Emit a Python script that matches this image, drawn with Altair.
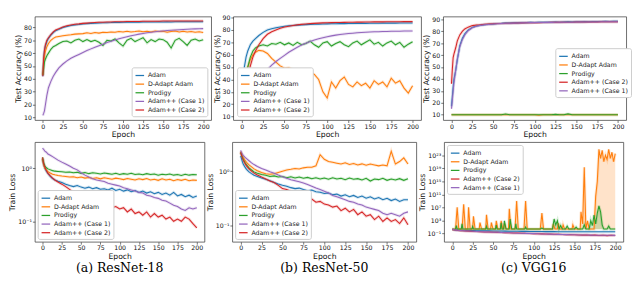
import math
import altair as alt
import pandas as pd

E = [0, 1, 2, 3, 5, 7, 10, 13, 16, 20,
     25, 30, 35, 40, 45, 50, 55, 60, 65, 70,
     75, 80, 85, 90, 95, 100, 105, 110, 115, 120,
     125, 130, 135, 140, 145, 150, 155, 160, 165, 170,
     175, 180, 185, 190, 195, 200]
XTICKS = [0, 25, 50, 75, 100, 125, 150, 175, 200]

ORDER = ["Adam", "D-Adapt Adam", "Prodigy", "Adam++ (Case 1)", "Adam++ (Case 2)"]
ORDER_VGG = ["Adam", "D-Adapt Adam", "Prodigy", "Adam++ (Case 2)", "Adam++ (Case 1)"]
COLORS = {"Adam": "#1f77b4", "D-Adapt Adam": "#ff7f0e", "Prodigy": "#2ca02c",
          "Adam++ (Case 1)": "#9467bd", "Adam++ (Case 2)": "#d62728"}

# ---------------- ResNet-18 test accuracy ----------------
r18_acc_adam = [42, 55, 62, 65, 69, 71.5, 74, 76, 77.5, 78.5,
                80, 80.8, 81.5, 82, 82.3, 82.8, 83, 83.2, 83.3, 83.5,
                83.6, 83.7, 83.8, 84, 83.9, 84, 84.1, 84, 84.2, 84.1,
                84.3, 84.2, 84.2, 84.3, 84.4, 84.3, 84.4, 84.3, 84.4, 84.5,
                84.4, 84.5, 84.4, 84.5, 84.4, 84.4]
r18_acc_dadapt = [43, 52, 58, 61, 65, 67.5, 70, 71.5, 72.5, 73,
                  73.5, 74, 74.3, 74.8, 75, 75.2, 75.8, 75.3, 76, 75.6,
                  76.2, 76, 76.5, 76.2, 76.8, 76.4, 77, 76.5, 76.8, 77.2,
                  76.6, 77, 76.5, 77.3, 76.8, 77, 76.3, 76.9, 77.2, 76.5,
                  77, 76.4, 76.8, 76.2, 76.6, 76]
r18_acc_prodigy = [43, 48, 53, 55, 58, 60, 63, 65, 66, 67.5,
                   69, 69.5, 68, 70, 71, 69, 70.5, 69, 70, 68.5,
                   66, 70, 69.5, 71, 68, 65.5, 70, 71.5, 69, 70.5,
                   72, 68, 70.5, 69, 71, 70.5, 68.5, 64, 70, 71.5,
                   69, 66, 70, 71, 69.5, 70.5]
r18_acc_case1 = [11.5, 13, 15, 19, 27, 33, 38, 42, 45, 48.5,
                 51.5, 54, 56, 57.5, 59, 60.5, 62, 63.3, 64.6, 65.8,
                 67, 68.2, 69.2, 70.2, 71.2, 72, 72.8, 73.5, 74.2, 74.8,
                 75.3, 75.8, 76.2, 76.6, 77, 77.3, 77.6, 77.8, 78, 78.2,
                 78.4, 78.6, 78.8, 78.9, 79, 79.1]
r18_acc_case2 = [42, 56, 62, 66, 70, 72, 74.5, 76.5, 78, 79,
                 80.3, 81.3, 82, 82.5, 82.8, 83.2, 83.4, 83.6, 83.8, 84,
                 84.1, 84.2, 84.3, 84.4, 84.5, 84.5, 84.6, 84.6, 84.7, 84.7,
                 84.8, 84.8, 84.8, 84.9, 84.9, 85, 85, 85, 85, 85.1,
                 85, 85.1, 85, 85.1, 85, 85.1]

# ---------------- ResNet-50 test accuracy ----------------
r50_acc_adam = [22, 33, 42, 50, 58, 63, 68, 71, 73, 75.5,
                78, 80, 81, 81.8, 82.4, 82.9, 83.3, 83.6, 83.9, 84.1,
                84.3, 84.5, 84.6, 84.7, 84.8, 84.9, 85, 85, 85.1, 85.1,
                85.2, 85.2, 85.3, 85.3, 85.3, 85.4, 85.4, 85.4, 85.5, 85.5,
                85.5, 85.5, 85.6, 85.6, 85.6, 85.6]
r50_acc_dadapt = [15, 20, 27, 33, 42, 50, 56, 60, 62, 63.5,
                  63, 61, 57, 54, 51, 49, 49.5, 48, 47, 47.5,
                  48, 46, 44, 40, 30, 25, 38, 33, 39, 42,
                  36, 34, 38, 35, 37, 33, 39, 36, 38, 34,
                  41, 37, 39, 33, 29, 35]
r50_acc_prodigy = [15, 20, 27, 33, 42, 50, 58, 63, 65.5, 67,
                   68, 67, 69, 68.5, 70, 68, 69.5, 67.5, 70, 68,
                   69, 71, 68, 66, 69.5, 70.5, 67, 69, 70.5, 68,
                   66.5, 69.5, 71, 68, 70, 72, 68.5, 70, 67, 69.5,
                   71, 68, 70, 66, 68.5, 70.5]
r50_acc_case1 = [11, 12, 13, 14.5, 17, 20, 25, 30, 34, 39,
                 44, 48, 51.5, 54.5, 57, 59.5, 62, 64, 66, 67.8,
                 69.3, 70.6, 71.8, 72.8, 73.7, 74.5, 75.2, 75.8, 76.3, 76.7,
                 77.1, 77.4, 77.7, 78, 78.2, 78.4, 78.5, 78.6, 78.7, 78.8,
                 78.9, 79, 79, 79.1, 79.1, 79.2]
r50_acc_case2 = [12, 15, 20, 25, 33, 41, 51, 58, 63, 68,
                 73, 76.5, 78.5, 80, 81.3, 82.3, 83, 83.6, 84.1, 84.5,
                 84.8, 85.1, 85.3, 85.5, 85.7, 85.8, 85.9, 86, 86, 86.1,
                 86.2, 86.2, 86.3, 86.3, 86.4, 86.4, 86.5, 86.5, 86.5, 86.6,
                 86.6, 86.6, 86.6, 86.7, 86.7, 86.7]

# ---------------- VGG16 test accuracy ----------------
vgg_acc_adam = [17, 25, 33, 40, 47, 56, 68, 74, 78, 81,
                83.3, 84.5, 85.2, 85.6, 86, 86.2, 86.5, 86.7, 87, 86.9,
                87.2, 87.1, 87.4, 87.3, 87.5, 87.4, 87.6, 87.5, 87.7, 87.6,
                87.8, 87.7, 87.9, 88, 87.9, 88.1, 88, 88.2, 88.1, 88.3,
                88.2, 88.3, 88.4, 88.3, 88.5, 88.5]
vgg_acc_dadapt = [10, 10, 10, 10, 10, 10, 10, 10, 10, 10,
                  10, 10, 10, 10, 10, 10, 10, 10, 10, 10,
                  10, 10, 10, 10, 10, 10, 9.6, 10, 10, 10,
                  10, 10, 10, 10, 10, 10, 10, 10, 10, 10,
                  10, 10, 10, 10, 10, 10]
vgg_acc_prodigy = [10, 10, 10, 10, 10, 10, 10, 10, 10, 10,
                   10, 10, 10, 10, 10, 10, 10, 10, 10.6, 10,
                   10, 10, 10, 10, 10, 10, 10, 10, 10, 10,
                   10.3, 10, 10, 10.7, 10, 10, 10, 10, 10, 10,
                   10, 10, 10, 10, 10, 10]
vgg_acc_case2 = [36, 48, 58, 61, 66, 72, 77, 80, 82, 83.5,
                 84.8, 85.3, 85.6, 86, 86.2, 86.4, 86.5, 86.6, 86.7, 86.8,
                 86.9, 87, 87.1, 87.2, 87.2, 87.3, 87.3, 87.4, 87.4, 87.5,
                 87.5, 87.6, 87.6, 87.7, 87.7, 87.8, 87.8, 87.8, 87.9, 87.9,
                 87.9, 88, 88, 88, 88, 88]
vgg_acc_case1 = [15, 22, 30, 37, 47, 57, 67, 73, 77, 80.5,
                 83, 84.3, 85, 85.5, 85.8, 86.1, 86.3, 86.5, 86.7, 86.8,
                 86.9, 87, 87.1, 87.2, 87.3, 87.3, 87.4, 87.4, 87.5, 87.5,
                 87.6, 87.6, 87.7, 87.7, 87.7, 87.8, 87.8, 87.8, 87.9, 87.9,
                 87.9, 88, 88, 88, 88, 88]

# ---------------- ResNet-18 train loss ----------------
r18_loss_adam = [1.5, 1.25, 1.1, 1.0, 0.88, 0.8, 0.7, 0.64, 0.6, 0.57,
                 0.54, 0.5, 0.47, 0.45, 0.47, 0.44, 0.42, 0.44, 0.41, 0.43,
                 0.4, 0.41, 0.39, 0.42, 0.38, 0.4, 0.37, 0.39, 0.36, 0.38,
                 0.35, 0.37, 0.34, 0.36, 0.33, 0.35, 0.32, 0.34, 0.31, 0.35,
                 0.3, 0.32, 0.29, 0.31, 0.28, 0.3]
r18_loss_dadapt = [1.5, 1.25, 1.1, 1.0, 0.92, 0.86, 0.81, 0.77, 0.75, 0.73,
                   0.71, 0.7, 0.68, 0.69, 0.66, 0.68, 0.65, 0.67, 0.64, 0.66,
                   0.63, 0.66, 0.64, 0.62, 0.65, 0.63, 0.61, 0.64, 0.62, 0.6,
                   0.63, 0.61, 0.64, 0.6, 0.62, 0.59, 0.63, 0.6, 0.62, 0.58,
                   0.61, 0.59, 0.62, 0.58, 0.6, 0.59]
r18_loss_prodigy = [1.6, 1.35, 1.2, 1.1, 1.02, 0.97, 0.93, 0.9, 0.88, 0.87,
                    0.86, 0.84, 0.85, 0.82, 0.84, 0.8, 0.83, 0.79, 0.82, 0.8,
                    0.78, 0.81, 0.79, 0.77, 0.8, 0.76, 0.79, 0.77, 0.8, 0.76,
                    0.78, 0.75, 0.79, 0.76, 0.78, 0.74, 0.77, 0.75, 0.78, 0.74,
                    0.76, 0.73, 0.77, 0.74, 0.76, 0.75]
r18_loss_case1 = [2.4, 2.3, 2.2, 2.1, 2.0, 1.85, 1.75, 1.65, 1.55, 1.42,
                  1.3, 1.2, 1.1, 1.0, 0.93, 0.82, 0.74, 0.68, 0.63, 0.6,
                  0.58, 0.56, 0.52, 0.5, 0.48, 0.46, 0.43, 0.41, 0.39, 0.37,
                  0.35, 0.34, 0.31, 0.3, 0.28, 0.27, 0.25, 0.24, 0.22, 0.2,
                  0.19, 0.17, 0.16, 0.18, 0.17, 0.18]
r18_loss_case2 = [1.6, 1.3, 1.15, 1.05, 0.9, 0.8, 0.72, 0.65, 0.6, 0.55,
                  0.5, 0.45, 0.4, 0.35, 0.3, 0.28, 0.3, 0.27, 0.28, 0.26,
                  0.27, 0.2, 0.21, 0.18, 0.19, 0.17, 0.18, 0.15, 0.17, 0.14,
                  0.15, 0.13, 0.15, 0.12, 0.14, 0.12, 0.13, 0.11, 0.12, 0.1,
                  0.11, 0.1, 0.12, 0.11, 0.09, 0.075]

# ---------------- ResNet-50 train loss ----------------
r50_loss_adam = [1.9, 1.7, 1.5, 1.35, 1.2, 1.08, 0.97, 0.9, 0.84, 0.8,
                 0.75, 0.71, 0.67, 0.62, 0.58, 0.55, 0.53, 0.5, 0.48, 0.49,
                 0.46, 0.44, 0.45, 0.42, 0.41, 0.39, 0.4, 0.37, 0.38, 0.35,
                 0.37, 0.34, 0.36, 0.33, 0.35, 0.32, 0.34, 0.31, 0.33, 0.3,
                 0.32, 0.29, 0.31, 0.28, 0.3, 0.3]
r50_loss_dadapt = [2.3, 2.1, 1.95, 1.8, 1.6, 1.45, 1.3, 1.2, 1.1, 1.02,
                   0.95, 0.9, 0.88, 0.9, 0.95, 1.0, 1.05, 1.08, 1.12, 1.1,
                   1.15, 1.18, 1.18, 1.25, 2.0, 1.65, 1.5, 1.45, 1.4, 1.35,
                   1.42, 1.33, 1.38, 1.3, 1.36, 1.28, 1.35, 1.3, 1.25, 1.3,
                   1.25, 2.3, 1.35, 1.5, 1.75, 1.35]
r50_loss_prodigy = [2.2, 2.0, 1.8, 1.65, 1.45, 1.3, 1.15, 1.05, 0.97, 0.92,
                    0.87, 0.84, 0.8, 0.82, 0.78, 0.8, 0.76, 0.79, 0.75, 0.78,
                    0.74, 0.77, 0.73, 0.76, 0.72, 0.75, 0.71, 0.76, 0.72, 0.74,
                    0.7, 0.75, 0.71, 0.73, 0.69, 0.74, 0.66, 0.72, 0.7, 0.74,
                    0.68, 0.72, 0.69, 0.73, 0.68, 0.73]
r50_loss_case1 = [2.4, 2.2, 2.05, 1.95, 1.8, 1.7, 1.55, 1.42, 1.32, 1.22,
                  1.12, 1.05, 0.98, 0.92, 0.85, 0.79, 0.74, 0.7, 0.67, 0.64,
                  0.61, 0.57, 0.53, 0.49, 0.46, 0.43, 0.4, 0.36, 0.34, 0.32,
                  0.3, 0.28, 0.27, 0.25, 0.24, 0.22, 0.21, 0.2, 0.19, 0.17,
                  0.16, 0.17, 0.16, 0.15, 0.17, 0.18]
r50_loss_case2 = [2.2, 1.95, 1.75, 1.6, 1.4, 1.25, 1.1, 1.0, 0.92, 0.85,
                  0.78, 0.72, 0.66, 0.62, 0.55, 0.48, 0.46, 0.43, 0.41, 0.38,
                  0.36, 0.3, 0.31, 0.27, 0.28, 0.25, 0.24, 0.22, 0.23, 0.19,
                  0.21, 0.18, 0.2, 0.16, 0.18, 0.15, 0.16, 0.13, 0.15, 0.12,
                  0.14, 0.12, 0.13, 0.11, 0.14, 0.105]

# ---------------- VGG16 train loss ----------------
vgg_loss_adam = [2.0, 1.8, 1.65, 1.5, 1.35, 1.2, 1.1, 1.0, 0.95, 0.9,
                 0.85, 0.8, 0.75, 0.72, 0.7, 0.66, 0.64, 0.6, 0.58, 0.56,
                 0.55, 0.52, 0.5, 0.49, 0.47, 0.46, 0.45, 0.43, 0.42, 0.42,
                 0.41, 0.4, 0.4, 0.39, 0.4, 0.38, 0.39, 0.37, 0.38, 0.37,
                 0.38, 0.36, 0.37, 0.36, 0.37, 0.36]
vgg_loss_case2 = [2.0, 1.7, 1.5, 1.35, 1.15, 1.0, 0.85, 0.75, 0.66, 0.58,
                  0.5, 0.43, 0.38, 0.33, 0.3, 0.27, 0.24, 0.22, 0.2, 0.18,
                  0.16, 0.15, 0.14, 0.12, 0.11, 0.1, 0.095, 0.085, 0.08, 0.07,
                  0.065, 0.06, 0.055, 0.05, 0.05, 0.045, 0.04, 0.035, 0.04, 0.03,
                  0.035, 0.028, 0.032, 0.025, 0.03, 0.027]
vgg_loss_case1 = [2.0, 1.75, 1.55, 1.4, 1.2, 1.05, 0.9, 0.8, 0.7, 0.62,
                  0.53, 0.46, 0.4, 0.35, 0.31, 0.28, 0.25, 0.22, 0.2, 0.18,
                  0.16, 0.14, 0.13, 0.12, 0.11, 0.1, 0.09, 0.08, 0.075, 0.07,
                  0.065, 0.06, 0.055, 0.05, 0.047, 0.043, 0.04, 0.04, 0.037, 0.035,
                  0.034, 0.033, 0.033, 0.032, 0.031, 0.03]
vgg_loss_prodigy_epoch = [0, 4, 5, 6, 11, 12, 13, 24, 25, 26, 41, 42, 43, 53, 54, 55,
                          59, 60, 61, 63, 64, 66, 70, 71, 73, 77, 78, 79, 89, 90, 91,
                          108, 110, 112, 123, 125, 127, 129, 131, 133, 135, 139, 141, 143,
                          150, 152, 154, 160, 162, 164, 168, 170, 172, 174, 176, 178, 180,
                          182, 184, 186, 190, 192, 194, 200]
vgg_loss_prodigy = [2.2, 2.5, 30, 2.5, 2.5, 100, 2.5, 2.5, 15, 2.5, 2.5, 20, 2.5, 2.5, 40, 2.5,
                    2.5, 200, 2.5, 2.5, 800, 2.5, 2.5, 3000, 2.5, 2.5, 100, 2.5, 2.5, 10, 2.5,
                    2.5, 5, 2.5, 2.5, 3000, 50, 1000, 2.5, 30, 2.5, 2.5, 20, 2.5,
                    2.5, 10, 2.5, 2.5, 50, 2.5, 2.5, 1000, 30, 5e4, 100, 2e5, 3e7,
                    5e5, 50, 2.5, 2.5, 20, 2.5, 2.5]
vgg_loss_dadapt_epoch = [0, 4, 6, 8, 12, 14, 16, 19, 20, 22, 25, 26, 28, 33, 34, 36,
                         41, 42, 44, 47, 48, 50, 53, 54, 56, 59, 60, 62, 63, 64, 66,
                         69, 70, 72, 77, 79, 81, 88, 90, 92, 108, 110, 112, 123, 124, 126,
                         129, 130, 132, 135, 136, 138, 147, 148, 150,
                         157, 158, 160, 162, 164, 166, 168,
                         174, 176, 178, 180, 182, 184, 186, 188, 190, 192, 194, 196, 198, 200]
vgg_loss_dadapt = [2.2, 2.5, 1.2e7, 2.5, 2.5, 1e8, 2.5, 2.5, 1.2e7, 2.5, 2.5, 2e4, 2.5, 2.5, 250, 2.5,
                   2.5, 6e4, 2.5, 2.5, 250, 2.5, 2.5, 800, 2.5, 2.5, 800, 2.5, 2.5, 150, 2.5,
                   2.5, 4e6, 2.5, 2.5, 1e9, 2.5, 2.5, 1e9, 2.5, 2.5, 2e5, 2.5, 2.5, 100, 2.5,
                   2.5, 150, 2.5, 2.5, 50, 2.5, 2.5, 50, 2.5,
                   2.5, 5e5, 100, 2e19, 2.5, 800, 2.5,
                   2.5, 2.5e10, 1e15, 6e24, 1e22, 3e24, 1e21, 1e23, 5e21, 6e24, 1e22, 8e23, 1e21, 3e23]

SUP = str.maketrans("0123456789-", "⁰¹²³⁴⁵⁶⁷⁸⁹⁻")


def log_expr(ticks):
    expr = "''"
    for t in reversed(ticks):
        e = round(math.log10(t))
        lab = "10" + str(e).translate(SUP)
        expr = f"round(log(datum.value)/LN10) == {e} ? '{lab}' : ({expr})"
    return expr


def legend(orient, **kw):
    return alt.Legend(title=None, orient=orient, direction="vertical", symbolType="stroke",
                      symbolSize=80, symbolStrokeWidth=1.3, labelFont="DejaVu Sans",
                      labelFontSize=6.5, labelColor="#222", padding=3, rowPadding=0,
                      strokeColor="#cccccc", fillColor="white", cornerRadius=2,
                      labelOffset=3, **kw)


def panel(series, order, ytitle, ydom, yticks, log, lg, w, h, caption=None, areas=()):
    rows = []
    for name in order:
        xs, ys = series[name]
        assert len(xs) == len(ys), (name, len(xs), len(ys))
        for xv, yv in zip(xs, ys):
            rows.append({"series": name, "epoch": xv, "value": yv})
    df = pd.DataFrame(rows)
    rng = [COLORS[s] for s in order]
    # reversed domain for the decorative layers, so their (hidden) legends never merge
    rorder = list(reversed(order))
    rrng = [COLORS[s] for s in rorder]
    x = alt.X("epoch:Q", scale=alt.Scale(domain=[-10, 210], nice=False, zero=False),
              axis=alt.Axis(values=XTICKS, title="Epoch"))
    if log:
        ysc = alt.Scale(type="log", domain=ydom, nice=False)
        yax = alt.Axis(values=yticks, title=ytitle, labelExpr=log_expr(yticks))
    else:
        ysc = alt.Scale(domain=ydom, nice=False, zero=False)
        yax = alt.Axis(values=yticks, title=ytitle)
    y = alt.Y("value:Q", scale=ysc, axis=yax, stack=None)
    layers = []
    if areas:
        adf = df[df["series"].isin(areas)]
        layers.append(alt.Chart(adf).mark_area(opacity=0.22, clip=True).encode(
            x=x, y=y, y2=alt.datum(2.2),
            fill=alt.Fill("series:N", scale=alt.Scale(domain=rorder, range=rrng), legend=None)))
    layers.append(alt.Chart(df).mark_line(strokeWidth=3, opacity=0.18, clip=True).encode(
        x=x, y=y,
        stroke=alt.Stroke("series:N", scale=alt.Scale(domain=rorder, range=rrng), legend=None)))
    layers.append(alt.Chart(df).mark_line(strokeWidth=1.1, clip=True).encode(
        x=x, y=y,
        color=alt.Color("series:N", scale=alt.Scale(domain=order, range=rng), legend=lg)))
    ch = alt.layer(*layers).properties(width=w, height=h)
    if caption:
        ch = ch.properties(title=alt.TitleParams(caption, orient="bottom", font="DejaVu Serif",
                                                 fontSize=13, fontWeight="normal", color="black",
                                                 offset=3, anchor="middle"))
    return ch


H1, H2 = 108, 104

pa = panel({"Adam": (E, r18_acc_adam), "D-Adapt Adam": (E, r18_acc_dadapt),
            "Prodigy": (E, r18_acc_prodigy), "Adam++ (Case 1)": (E, r18_acc_case1),
            "Adam++ (Case 2)": (E, r18_acc_case2)},
           ORDER, "Test Accuracy (%)", [7.8, 88.5], [10, 20, 30, 40, 50, 60, 70, 80], False,
           legend("bottom-right", offset=4), 184, H1)
pb = panel({"Adam": (E, r50_acc_adam), "D-Adapt Adam": (E, r50_acc_dadapt),
            "Prodigy": (E, r50_acc_prodigy), "Adam++ (Case 1)": (E, r50_acc_case1),
            "Adam++ (Case 2)": (E, r50_acc_case2)},
           ORDER, "Test Accuracy (%)", [7.2, 90.8], [10, 20, 30, 40, 50, 60, 70, 80, 90], False,
           legend("bottom-left", offset=4), 196, H1)
pc = panel({"Adam": (E, vgg_acc_adam), "D-Adapt Adam": (E, vgg_acc_dadapt),
            "Prodigy": (E, vgg_acc_prodigy), "Adam++ (Case 2)": (E, vgg_acc_case2),
            "Adam++ (Case 1)": (E, vgg_acc_case1)},
           ORDER_VGG, "Test Accuracy (%)", [5.5, 92.4], [10, 20, 30, 40, 50, 60, 70, 80, 90], False,
           legend("none", legendX=117, legendY=33), 191, H1)

pd_ = panel({"Adam": (E, r18_loss_adam), "D-Adapt Adam": (E, r18_loss_dadapt),
             "Prodigy": (E, r18_loss_prodigy), "Adam++ (Case 1)": (E, r18_loss_case1),
             "Adam++ (Case 2)": (E, r18_loss_case2)},
            ORDER, "Train Loss", [0.041, 3.1], [0.1, 1], True,
            legend("bottom-left", offset=3), 177, H2, caption="(a) ResNet-18")
pe = panel({"Adam": (E, r50_loss_adam), "D-Adapt Adam": (E, r50_loss_dadapt),
            "Prodigy": (E, r50_loss_prodigy), "Adam++ (Case 1)": (E, r50_loss_case1),
            "Adam++ (Case 2)": (E, r50_loss_case2)},
           ORDER, "Train Loss", [0.051, 3.4], [0.1, 1], True,
           legend("bottom-left", offset=3), 192, H2, caption="(b) ResNet-50")
pf = panel({"Adam": (E, vgg_loss_adam),
            "D-Adapt Adam": (vgg_loss_dadapt_epoch, vgg_loss_dadapt),
            "Prodigy": (vgg_loss_prodigy_epoch, vgg_loss_prodigy),
            "Adam++ (Case 2)": (E, vgg_loss_case2), "Adam++ (Case 1)": (E, vgg_loss_case1)},
           ORDER_VGG, "Train Loss", [10 ** -3.5, 1e27], [1e-1, 1e3, 1e7, 1e11, 1e15, 1e19, 1e23], True,
           legend("top-left", offset=3), 187, H2, caption="(c) VGG16",
           areas=("D-Adapt Adam", "Prodigy"))


def indep(c):
    return c.resolve_scale(color="independent", stroke="independent", fill="independent",
                           x="independent", y="independent").resolve_legend(
        color="independent", stroke="independent", fill="independent")


top = indep(alt.hconcat(pa, pb, pc, spacing=0))
bottom = indep(alt.hconcat(pd_, pe, pf, spacing=0))
chart = indep(alt.vconcat(top, bottom, spacing=2)).properties(padding=0)

chart = (chart
         .configure(font="DejaVu Sans")
         .configure_axis(labelFont="DejaVu Sans", labelFontSize=6.5, labelColor="#111",
                         titleFont="DejaVu Sans", titleFontSize=8, titleFontWeight="normal",
                         titleColor="#111", tickColor="#333", tickSize=2.5, tickWidth=0.7,
                         domain=False, grid=False, labelPadding=1, titlePadding=1)
         .configure_view(stroke="#444", strokeWidth=0.8))

chart.save("out.html", embed_options={"renderer": "svg", "actions": False})
